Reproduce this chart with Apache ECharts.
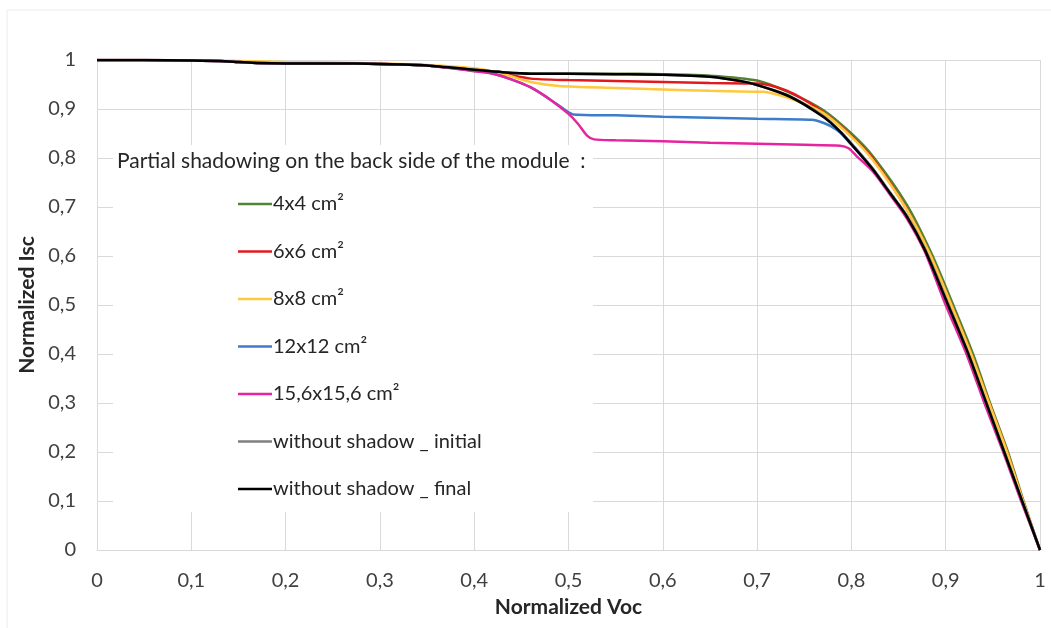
<!DOCTYPE html>
<html><head><meta charset="utf-8">
<script src="https://cdn.jsdelivr.net/npm/echarts@6/dist/echarts.min.js"></script>
<style>html,body{margin:0;padding:0;background:#fff}#c{width:1051px;height:628px}</style>
</head><body><div id="c"></div>
<script>
// Tick labels
const xTicks = ['0','0,1','0,2','0,3','0,4','0,5','0,6','0,7','0,8','0,9','1'];
const yTicks = ['0','0,1','0,2','0,3','0,4','0,5','0,6','0,7','0,8','0,9','1'];
const seriesNames = ['4x4 cm²','6x6 cm²','8x8 cm²','12x12 cm²','15,6x15,6 cm²','without shadow _ initial','without shadow _ final'];

// 4x4 cm²
const voc4 = [0,0.05,0.1,0.13,0.15,0.17,0.2,0.25,0.3,0.35,0.4,0.43,0.46,0.5,0.55,0.6,0.65,0.7,0.735,0.77,0.8,0.823,0.859,0.885,0.908,0.929,0.947,0.966,0.9825,1.0];
const isc4 = [1,1,0.999,0.998,0.996,0.994,0.993,0.993,0.992,0.989,0.98,0.975,0.972,0.972,0.972,0.971,0.968,0.958,0.933,0.898,0.85,0.803,0.704,0.605,0.5,0.4,0.3,0.2,0.1,0];
// 6x6 cm²
const voc6 = [0,0.05,0.1,0.13,0.15,0.17,0.2,0.25,0.3,0.35,0.4,0.43,0.46,0.5,0.55,0.6,0.65,0.7,0.72,0.74,0.77,0.8,0.823,0.857,0.883,0.906,0.927,0.946,0.965,0.982,1.0];
const isc6 = [1,1,0.999,0.998,0.996,0.994,0.993,0.993,0.992,0.989,0.98,0.972,0.962,0.959,0.957,0.955,0.953,0.952,0.945,0.93,0.894,0.845,0.798,0.701,0.604,0.5,0.4,0.3,0.2,0.1,0];
// 8x8 cm²
const voc8 = [0,0.05,0.1,0.13,0.15,0.2,0.25,0.3,0.35,0.4,0.43,0.46,0.49,0.55,0.6,0.65,0.706,0.72,0.74,0.77,0.8,0.823,0.857,0.883,0.906,0.927,0.946,0.965,0.982,1.0];
const isc8 = [1,1,0.999,0.999,0.998,0.996,0.995,0.993,0.99,0.983,0.972,0.955,0.947,0.943,0.94,0.937,0.935,0.93,0.918,0.892,0.843,0.795,0.7,0.605,0.5,0.4,0.3,0.2,0.1,0];
// 12x12 cm²
const voc12 = [0,0.05,0.1,0.13,0.15,0.17,0.2,0.25,0.3,0.35,0.4,0.42,0.44,0.46,0.48,0.495,0.505,0.55,0.6,0.65,0.7,0.758,0.77,0.779,0.788,0.8,0.823,0.841,0.859,0.878,0.9025,0.924,0.943,0.962,0.981,1.0];
const isc12 = [1,1,0.999,0.998,0.996,0.994,0.993,0.993,0.992,0.989,0.978,0.972,0.96,0.944,0.92,0.9,0.889,0.887,0.884,0.882,0.88,0.878,0.872,0.864,0.852,0.827,0.776,0.728,0.68,0.612,0.5,0.4,0.3,0.2,0.1,0];
// 15,6x15,6 cm²
const voc15 = [0,0.05,0.1,0.13,0.15,0.17,0.2,0.25,0.3,0.35,0.4,0.42,0.44,0.46,0.48,0.5,0.51,0.52,0.527,0.55,0.6,0.65,0.7,0.75,0.788,0.797,0.806,0.823,0.841,0.859,0.878,0.9,0.922,0.941,0.961,0.98,1.0];
const isc15 = [1,1,0.999,0.998,0.996,0.994,0.993,0.993,0.992,0.989,0.977,0.972,0.96,0.944,0.92,0.89,0.87,0.845,0.838,0.836,0.834,0.831,0.829,0.827,0.825,0.82,0.803,0.772,0.725,0.676,0.608,0.5,0.4,0.3,0.2,0.1,0];
// without shadow _ initial
const vocInit = [0,0.05,0.1,0.13,0.15,0.17,0.2,0.25,0.3,0.35,0.4,0.43,0.46,0.5,0.55,0.6,0.65,0.682,0.7,0.735,0.77,0.788,0.8,0.823,0.841,0.859,0.878,0.903,0.924,0.943,0.962,0.981,1.0];
const iscInit = [1,1,0.999,0.998,0.996,0.994,0.993,0.993,0.992,0.989,0.98,0.975,0.972,0.972,0.971,0.97,0.966,0.957,0.949,0.926,0.886,0.855,0.83,0.778,0.73,0.682,0.614,0.5,0.4,0.3,0.2,0.1,0];
// without shadow _ final
const vocFinal = [0,0.05,0.1,0.13,0.15,0.17,0.2,0.25,0.3,0.35,0.4,0.43,0.46,0.5,0.55,0.6,0.65,0.682,0.7,0.735,0.77,0.788,0.8,0.823,0.841,0.859,0.878,0.9025,0.924,0.943,0.962,0.981,1.0];
const iscFinal = [1,1,0.999,0.998,0.996,0.994,0.993,0.993,0.992,0.989,0.98,0.975,0.972,0.972,0.971,0.97,0.966,0.957,0.949,0.925,0.884,0.854,0.828,0.776,0.728,0.68,0.612,0.5,0.4,0.3,0.2,0.1,0];

const colors = ['#548235','#e31a1c','#ffc83d','#3d7cc9','#e6249f','#7f7f7f','#000000'];
const vocs = [voc4,voc6,voc8,voc12,voc15,vocInit,vocFinal];
const iscs = [isc4,isc6,isc8,isc12,isc15,iscInit,iscFinal];

const FONT = 'Lato, "Liberation Sans", sans-serif';
const chart = echarts.init(document.getElementById('c'), null, {renderer:'canvas'});
const series = seriesNames.map((n,i)=>({
  name:n, type:'line', showSymbol:false, smooth:0.25,
  lineStyle:{color:colors[i], width:2.5}, itemStyle:{color:colors[i]},
  data: vocs[i].map((x,k)=>[x, iscs[i][k]])
}));
chart.setOption({
  animation:false,
  backgroundColor:'#fff',
  color:colors,
  grid:{left:97,right:11,top:60,bottom:78,containLabel:false},
  xAxis:{type:'value',min:0,max:1,interval:0.1,
    axisLine:{show:true,lineStyle:{color:'#d9d9d9',width:1}},
    axisTick:{show:false},
    splitLine:{show:true,lineStyle:{color:'#d9d9d9',width:1}},
    axisLabel:{margin:21,fontFamily:FONT,fontSize:20,color:'#404040',
      formatter:v=>xTicks[Math.round(v*10)]},
    name:'Normalized Voc',nameLocation:'middle',nameGap:47,
    nameTextStyle:{fontFamily:FONT,fontSize:21,fontWeight:'bold',color:'#262626'}},
  yAxis:{type:'value',min:0,max:1,interval:0.1,
    axisLine:{show:false},axisTick:{show:false},
    splitLine:{show:true,lineStyle:{color:'#d9d9d9',width:1}},
    axisLabel:{margin:21,fontFamily:FONT,fontSize:20,color:'#404040',
      formatter:v=>yTicks[Math.round(v*10)]},
    name:'Normalized Isc',nameLocation:'middle',nameGap:54,nameRotate:90,
    nameTextStyle:{fontFamily:FONT,fontSize:21,fontWeight:'bold',color:'#262626'}},
  legend:{show:true,orient:'vertical',left:233,top:189,z:6,
    icon:'rect',itemWidth:34,itemHeight:2.5,itemGap:27.5,
    textStyle:{fontFamily:FONT,fontSize:20,color:'#262626',lineHeight:20,padding:[0,0,0,-4]},
    data:seriesNames},
  graphic:[
    {type:'rect',z:3,shape:{x:7,y:10,width:1100,height:700},style:{fill:'none',stroke:'#ececec',lineWidth:1},silent:true},
    {type:'rect',z:3,shape:{x:113,y:145,width:480,height:367},style:{fill:'#ffffff'},silent:true},
    {type:'text',z:5,left:117,top:151,style:{text:'Partial shadowing on the back side of the module  :',fontFamily:FONT,fontSize:21,fill:'#262626'}}
  ],
  series:series
});
</script></body></html>
